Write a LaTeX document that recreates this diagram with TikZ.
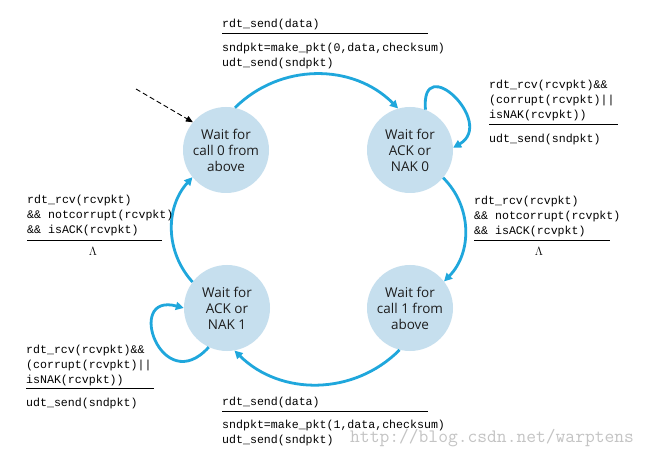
\documentclass[tikz,border=0pt]{standalone}
\usepackage{fontspec}
\usetikzlibrary{arrows.meta}
\newfontfamily\codefont{Liberation Mono}
\newfontfamily\statefont{Open Sans}
\definecolor{statefill}{HTML}{C6DFEE}
\definecolor{statetext}{HTML}{1E1E1E}
\definecolor{arrowblue}{HTML}{1FA7DC}
\definecolor{wmgray}{HTML}{C4C4C4}
\begin{document}
\begin{tikzpicture}[x=1pt,y=-1pt,
  state/.style={circle, fill=statefill, minimum size=86pt, inner sep=0pt, align=center,
    font=\statefont\fontsize{13.5}{16}\selectfont, text=statetext},
  trans/.style={draw=arrowblue, line width=2.8pt, -{Triangle[length=8pt,width=8pt]}},
  initarr/.style={draw=black, line width=0.9pt, dash pattern=on 5pt off 3pt, -{Triangle[length=7pt,width=6pt]}},
  lbl/.style={anchor=north west, inner sep=0pt, align=left,
    font=\codefont\fontsize{11.6}{14.8}\selectfont},
  barline/.style={draw=black, line width=0.8pt},
  lam/.style={inner sep=0pt, font=\fontsize{12}{12}\selectfont}]
\useasboundingbox (0,0) rectangle (651,457);
\fill[white] (0,0) rectangle (651,457);

% states
\node[state] (s0) at (226,150) {Wait for\\call 0 from\\above};
\node[state] (s1) at (410,150) {Wait for\\ACK or\\NAK 0};
\node[state] (s2) at (410,308) {Wait for\\call 1 from\\above};
\node[state] (s3) at (227,308) {Wait for\\ACK or\\NAK 1};

% transitions
\draw[trans] (s0.78) to[bend left=45] (s1.106);
\draw[trans] (s1.-40) to[bend left=45] (s2.38);
\draw[trans] (s2.-104) to[bend left=45] (s3.-80);
\draw[trans] (s3.143) to[bend left=42] (s0.219);
\draw[trans] (s1.69) .. controls +(95:60pt) and +(30:50pt) .. (s1.3);
\draw[trans] (s3.-115) .. controls +(228:70pt) and +(165:62pt) .. (s3.180);

% initial
\coordinate (init) at (136,89);
\draw[initarr] (init) -- (s0.140);

% labels: top
\node[lbl] (g01) at (222,19) {rdt\_send(data)};
\draw[barline] (222,33) -- (428,33);
\node[lbl] (a01) at (222,43) {sndpkt=make\_pkt(0,data,checksum)\\udt\_send(sndpkt)};

% top right loop
\node[lbl] (g11) at (489,80) {rdt\_rcv(rcvpkt)\&\&\\(corrupt(rcvpkt)||\\isNAK(rcvpkt))};
\draw[barline] (489,124) -- (618,124);
\node[lbl] (a11) at (489,134) {udt\_send(sndpkt)};

% right
\node[lbl] (g12) at (474,196) {rdt\_rcv(rcvpkt)\\\&\& notcorrupt(rcvpkt)\\\&\& isACK(rcvpkt)};
\draw[barline] (474,240) -- (610,240);
\node[lam] (a12) at (539,251) {$\Lambda$};

% left
\node[lbl] (g30) at (27,195) {rdt\_rcv(rcvpkt)\\\&\& notcorrupt(rcvpkt)\\\&\& isACK(rcvpkt)};
\draw[barline] (27,240) -- (162,240);
\node[lam] (a30) at (93,251) {$\Lambda$};

% bottom left loop
\node[lbl] (g33) at (26,345) {rdt\_rcv(rcvpkt)\&\&\\(corrupt(rcvpkt)||\\isNAK(rcvpkt))};
\draw[barline] (26,388) -- (154,388);
\node[lbl] (a33) at (26,398) {udt\_send(sndpkt)};

% bottom
\node[lbl] (g23) at (222,397) {rdt\_send(data)};
\draw[barline] (222,411) -- (428,411);
\node[lbl] (a23) at (222,420) {sndpkt=make\_pkt(1,data,checksum)\\udt\_send(sndpkt)};

% watermark
\node[anchor=base west, inner sep=0pt, font=\ttfamily\fontsize{19}{19}\selectfont, text=wmgray] (wm) at (350,442) {http://blog.csdn.net/warptens};
\end{tikzpicture}
\end{document}
